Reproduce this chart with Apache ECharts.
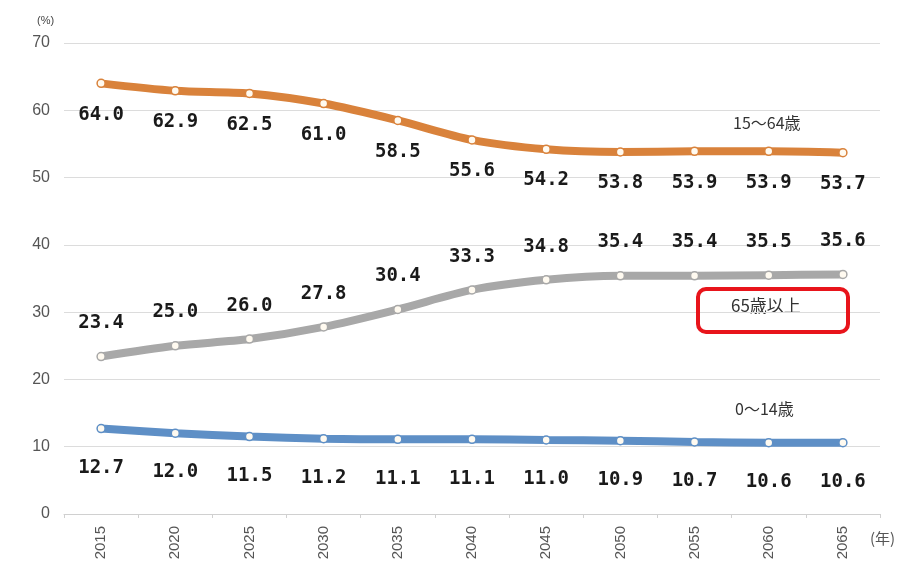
<!DOCTYPE html>
<html><head><meta charset="utf-8">
<script src="https://cdn.jsdelivr.net/npm/echarts@6/dist/echarts.min.js"></script>
<style>html,body{margin:0;padding:0;background:#fff}#c{width:907px;height:572px}</style>
</head><body><div id="c"></div>
<script>
const years = ['2015','2020','2025','2030','2035','2040','2045','2050','2055','2060','2065'];
const working = [64.0,62.9,62.5,61.0,58.5,55.6,54.2,53.8,53.9,53.9,53.7];
const elderly = [23.4,25.0,26.0,27.8,30.4,33.3,34.8,35.4,35.4,35.5,35.6];
const children = [12.7,12.0,11.5,11.2,11.1,11.1,11.0,10.9,10.7,10.6,10.6];
const names = ['15～64歳','65歳以上','0～14歳'];
const yTicks = [0,10,20,30,40,50,60,70];

const chart = echarts.init(document.getElementById('c'));
const lblFont = {fontFamily:'DejaVu Sans Mono', fontWeight:'bold', fontSize:19, color:'#1a1a1a'};
function mk(name, data, color, pos, dist){
  return {name, type:'line', data, smooth:0.3, symbol:'circle', symbolSize:8,
    lineStyle:{color, width:8},
    itemStyle:{color:'#fffaf0', borderColor:color, borderWidth:1.5},
    label:Object.assign({show:true, position:pos, distance:dist, formatter:p=>p.value.toFixed(1)}, lblFont),
    z:3};
}
chart.setOption({
  animation:false,
  grid:{left:64, right:27, top:43, bottom:58},
  xAxis:{type:'category', data:years, boundaryGap:true,
    axisLine:{lineStyle:{color:'#d0d0d0'}},
    axisTick:{show:true, lineStyle:{color:'#d0d0d0'}, length:4},
    axisLabel:{rotate:90, color:'#555', fontSize:15, fontFamily:'Liberation Sans', margin:12}},
  yAxis:{type:'value', min:yTicks[0], max:yTicks[yTicks.length-1], interval:10,
    axisLine:{show:false}, axisTick:{show:false},
    axisLabel:{color:'#555', fontSize:16, fontFamily:'Liberation Sans', margin:14},
    splitLine:{lineStyle:{color:'#dcdcdc'}}},
  series:[
    mk(names[0], working, '#D9823B', 'bottom', 17),
    mk(names[1], elderly, '#A8A8A8', 'top', 19),
    mk(names[2], children, '#5E8FC6', 'bottom', 25)
  ],
  graphic:[
    {type:'text', left:37, top:15, style:{text:'(%)', fontSize:11, fill:'#444', fontFamily:'Liberation Sans'}},
    {type:'text', left:870, top:531, style:{text:'(年)', fontSize:15, fill:'#555', fontFamily:'Noto Sans CJK JP'}},
    {type:'text', left:733, top:115, style:{text:names[0], fontSize:16, fill:'#333', fontFamily:'Noto Sans CJK JP'}},
    {type:'rect', shape:{x:698, y:289, width:150, height:43, r:8}, style:{fill:'none', stroke:'#E8141B', lineWidth:4}, z:10},
    {type:'text', left:731, top:297, style:{text:names[1], fontSize:17, fill:'#333', fontFamily:'Noto Sans CJK JP'}},
    {type:'text', left:735, top:401, style:{text:names[2], fontSize:16, fill:'#333', fontFamily:'Noto Sans CJK JP'}}
  ]
});
</script></body></html>
